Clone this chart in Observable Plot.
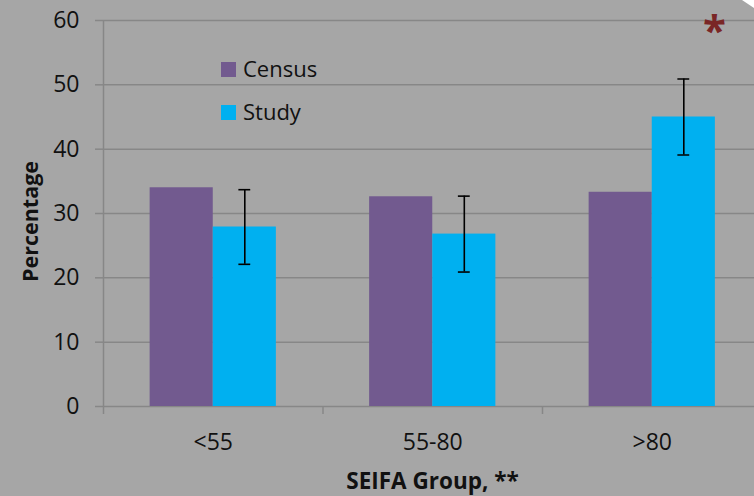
<!DOCTYPE html>
<html>
<head>
<meta charset="utf-8">
<script src="https://cdn.jsdelivr.net/npm/d3@7"></script>
<script src="https://cdn.jsdelivr.net/npm/@observablehq/plot@0.6"></script>
<style>
  html, body { margin: 0; padding: 0; background: #ffffff; }
  #chart {
    position: relative;
    width: 754px;
    height: 496px;
    overflow: hidden;
    background: #a6a6a6;
    font-family: "Open Sans", sans-serif;
    clip-path: polygon(0 0, 742px 0, 754px 8px, 754px 100%, 0 100%);
  }
  #chart svg { position: absolute; left: 0; top: 0; }
  .key { position: absolute; left: 221px; font-size: 22px; line-height: 22px; color: #111; white-space: nowrap; }
  .key i { position: absolute; left: 0; width: 15px; height: 15px; }
  .key span { position: absolute; left: 22px; top: 0; }
  .star { position: absolute; font-size: 42px; font-weight: bold; line-height: 42px; color: #7a2626; }
</style>
</head>
<body>
<div id="chart"></div>
<script>
// SEIFA groups on the x axis
const groups = ["<55", "55-80", ">80"];
// Percentage in each group: census population vs study sample
const census = [34.0, 32.6, 33.3];
const study = [27.9, 26.8, 45.0];
// Half-width of the study error bars
const studyError = [5.8, 5.9, 5.9];
const yTicks = [0, 10, 20, 30, 40, 50, 60];
const seriesNames = ["Census", "Study"];
const seriesColors = ["#725a8f", "#00b0f0"];

const barWidth = 0.2875; // width of one bar, in units of a group band
const capHalf = 0.027;   // half-width of an error-bar cap

const bars = groups.flatMap((g, i) => [
  {series: "Census", value: census[i], x1: i - barWidth, x2: i},
  {series: "Study", value: study[i], x1: i, x2: i + barWidth}
]);

const errors = groups.map((g, i) => {
  const cx = i + barWidth / 2;
  return {x: cx, lo: study[i] - studyError[i], hi: study[i] + studyError[i], c1: cx - capHalf, c2: cx + capHalf};
});

const axisGrey = "#878787";

const chart = Plot.plot({
  width: 754,
  height: 496,
  marginLeft: 103,
  marginRight: 0,
  marginTop: 20,
  marginBottom: 90,
  style: {background: "transparent", fontFamily: "Open Sans, sans-serif", fontSize: "23px", color: "#111"},
  x: {type: "linear", domain: [-0.5, 2.5], range: [103, 761.5]},
  y: {domain: [0, 60]},
  color: {domain: seriesNames, range: seriesColors},
  marks: [
    Plot.gridY(yTicks, {stroke: axisGrey, strokeOpacity: 1, strokeWidth: 1.5}),
    Plot.axisY(yTicks, {tickSize: 8, tickPadding: 16, stroke: axisGrey, strokeWidth: 1.5, label: null, fontSize: 23}),
    Plot.rectY(bars, {x1: "x1", x2: "x2", y1: 0, y2: "value", fill: "series"}),
    Plot.ruleX([-0.5], {y1: 0, y2: 60, stroke: axisGrey, strokeWidth: 1.5}),
    Plot.axisX([-0.5, 0.5, 1.5, 2.5], {tickSize: 8, tickFormat: () => "", stroke: axisGrey, strokeWidth: 1.5, label: null}),
    Plot.axisX([0, 1, 2], {tickSize: 0, tickPadding: 27, tickFormat: (i) => groups[i], label: null, fontSize: 23}),
    Plot.ruleX(errors, {x: "x", y1: "lo", y2: "hi", stroke: "#000", strokeWidth: 1.6}),
    Plot.ruleY(errors, {y: "lo", x1: "c1", x2: "c2", stroke: "#000", strokeWidth: 1.6}),
    Plot.ruleY(errors, {y: "hi", x1: "c1", x2: "c2", stroke: "#000", strokeWidth: 1.6}),
    Plot.text(["Percentage"], {text: (d) => d, frameAnchor: "left", textAnchor: "middle", lineAnchor: "middle", rotate: -90, dx: -72, dy: 8, fontWeight: "bold", fontSize: 21.5, fill: "#111"}),
    Plot.text(["SEIFA Group, **"], {text: (d) => d, frameAnchor: "bottom", lineAnchor: "middle", dx: 3.5, dy: 75, fontWeight: "bold", fontSize: 22.5, fill: "#111"})
  ]
});

const root = document.getElementById("chart");
root.appendChild(chart);

// Legend inside the plot area
seriesNames.forEach((name, k) => {
  const item = document.createElement("div");
  item.className = "key";
  item.style.top = (57 + k * 43) + "px";
  const sw = document.createElement("i");
  sw.style.background = seriesColors[k];
  sw.style.top = "5px";
  const label = document.createElement("span");
  label.textContent = name;
  item.appendChild(sw);
  item.appendChild(label);
  root.appendChild(item);
});

// Significance marker
const star = document.createElement("div");
star.className = "star";
star.textContent = "*";
star.style.left = "703px";
star.style.top = "8px";
root.appendChild(star);
</script>
</body>
</html>
